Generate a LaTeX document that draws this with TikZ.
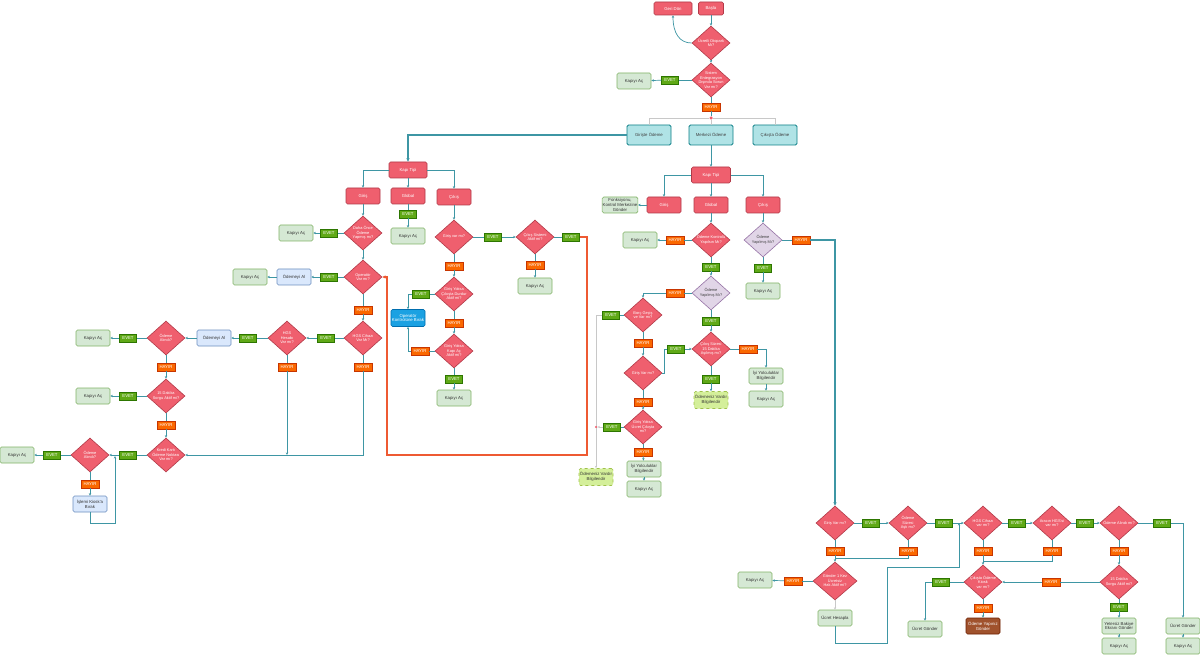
\documentclass[tikz,border=0pt]{standalone}
\usepackage{fontspec}
\setmainfont{Liberation Sans}
\usetikzlibrary{shapes.geometric,arrows.meta}
\definecolor{rf}{HTML}{EF5F6E}
\definecolor{rd}{HTML}{B23A48}
\definecolor{gf}{HTML}{D5E8D4}
\definecolor{gd}{HTML}{82B366}
\definecolor{bf}{HTML}{DAE8FC}
\definecolor{bd}{HTML}{6C8EBF}
\definecolor{tf}{HTML}{B0E3E6}
\definecolor{td}{HTML}{0E8088}
\definecolor{pf}{HTML}{E1D5E7}
\definecolor{pd}{HTML}{9673A6}
\definecolor{evc}{HTML}{60A917}
\definecolor{evd}{HTML}{2D7600}
\definecolor{hyc}{HTML}{FA6800}
\definecolor{hyd}{HTML}{C73500}
\definecolor{opc}{HTML}{1BA1E2}
\definecolor{opd}{HTML}{006EAF}
\definecolor{brc}{HTML}{A0522D}
\definecolor{brd}{HTML}{6D1F00}
\definecolor{yf}{HTML}{D4EF9A}
\definecolor{yd}{HTML}{9FC24A}
\definecolor{lc}{HTML}{3E96A4}
\definecolor{orc}{HTML}{EE5A32}
\definecolor{glc}{HTML}{C8C8C8}
\newcommand\fs{\fontsize{4.3}{4.9}\selectfont}
\newcommand\fd{\fontsize{3.9}{4.5}\selectfont}
\tikzset{
 base/.style={rectangle, rounded corners=1.5pt, inner sep=0.5pt, align=center, font=\fs, minimum height=16pt, minimum width=34pt, line width=0.6pt},
 rbox/.style={base, fill=rf, draw=rd, text=white},
 gbox/.style={base, fill=gf, draw=gd, text=black!80},
 bbox/.style={base, fill=bf, draw=bd, text=black!80},
 tbox/.style={base, fill=tf, draw=td, text=black!75, minimum width=44pt, minimum height=20pt, line width=0.8pt},
 obox/.style={base, fill=opc, draw=opd, text=white, minimum height=17pt},
 brbox/.style={base, fill=brc, draw=brd, text=white},
 ybox/.style={base, fill=yf, draw=yd, dashed, text=black!80, minimum height=17pt},
 dia/.style={diamond, fill=rf, draw=rd, minimum width=38pt, minimum height=34pt, inner sep=0pt, line width=0.6pt},
 pdia/.style={dia, fill=pf, draw=pd},
 dt/.style={font=\fd, align=center, text=white, inner sep=0pt},
 ev/.style={rectangle, fill=evc, draw=evd, text=white, font=\fs, minimum width=17pt, minimum height=8pt, inner sep=0.3pt, line width=0.4pt},
 hy/.style={ev, fill=hyc, draw=hyd, minimum width=18pt},
 ln/.style={draw=lc, line width=0.7pt},
 ar/.style={ln, -{Stealth[length=2.6pt,width=2.4pt]}},
 thk/.style={draw=lc, line width=1.4pt, -{Stealth[length=3.5pt,width=3.2pt]}},
 orl/.style={draw=orc, line width=1.3pt, -{Stealth[length=3.2pt,width=3pt]}},
 gl/.style={draw=glc, line width=0.6pt},
 gla/.style={gl, -{Stealth[length=2.4pt,width=2.2pt]}},
 dotn/.style={circle, fill=rf, inner sep=0pt, minimum size=3.5pt},
}
\newcommand\Dm[4][dia]{\node[#1] (#2) at (#3) {}; \node[dt] (#2t) at (#2.center) {#4};}
\newcommand\Dp[3]{\node[pdia] (#1) at (#2) {}; \node[dt, text=black!75] (#1t) at (#1.center) {#3};}
\begin{document}
\begin{tikzpicture}[x=1pt,y=-1pt]
\fill[white] (0,0) rectangle (1200,655);
\useasboundingbox (0,0) rectangle (1200,655);
% ---------- top ----------
\node[rbox, minimum width=38pt, minimum height=13pt] (geri) at (673,8.5) {Geri Dön};
\node[rbox, minimum width=25pt, minimum height=13pt] (basla) at (711,8.5) {Başla};
\Dm{d1}{711,43}{Ücretli Otopark\\Mı?}
\Dm{d2}{711,80}{Sistem\\Entegrasyon\\Dışında Sorun\\Var mı?}
\node[ev] (e0) at (670,80) {EVET};
\node[gbox] (k0) at (634,81) {Kapıyı Aç};
\node[hy] (h0) at (711,107) {HAYIR};
\node[dotn] (dot) at (711,118) {};
\node[tbox] (gir) at (649,135) {Girişte Ödeme};
\node[tbox] (mer) at (711,135) {Merkezi Ödeme};
\node[tbox] (cik) at (775,135) {Çıkışta Ödeme};
\draw[ar] (basla) -- (d1);
\draw[ar] (d1.west) .. controls (680,43) and (673,34) .. (geri.south);
\draw[ar] (d1) -- (d2);
\draw[ln] (d2) -- (e0); \draw[ar] (e0) -- (k0);
\draw[ln] (d2) -- (h0); \draw[ln] (h0) -- (dot);
\draw[gl] (dot) -| (gir.north);
\draw[gl] (dot) -| (cik.north);
\draw[gl] (dot) -- (mer.north);
% ---------- left tree ----------
\node[rbox, minimum width=38pt] (kt1) at (408,170) {Kapı Tipi};
\node[rbox] (lg) at (363,196) {Giriş};
\node[rbox] (lgl) at (408,196) {Global};
\node[rbox] (lc) at (454,197) {Çıkış};
\draw[thk] (gir.west) -| (kt1.north);
\draw[ar] (kt1.west) -| (lg.north);
\draw[ar] (kt1) -- (lgl);
\draw[ar] (kt1.east) -| (lc.north);
\node[ev] (e1) at (408,214) {EVET};
\node[gbox] (k1) at (408,236) {Kapıyı Aç};
\draw[ln] (lgl) -- (e1); \draw[ar] (e1) -- (k1);
\Dm{l1}{363,233}{Daha Önce\\Ödeme\\Yapmış mı?}
\draw[ar] (lg) -- (l1);
\node[ev] (e2) at (329,233) {EVET};
\node[gbox] (k2) at (296,233) {Kapıyı Aç};
\draw[ln] (l1) -- (e2); \draw[ar] (e2) -- (k2);
\Dm{l2}{363,277}{Operatör\\Var mı?}
\draw[ar] (l1) -- (l2);
\node[ev] (e3) at (329,277) {EVET};
\node[bbox] (oa1) at (294,277) {Ödemeyi Al};
\node[gbox] (k3) at (250,277) {Kapıyı Aç};
\draw[ln] (l2) -- (e3); \draw[ar] (e3) -- (oa1); \draw[ar] (oa1) -- (k3);
\node[hy] (h1) at (363,310) {HAYIR};
\Dm{l3}{363,338}{HGS Cihazı\\Var Mı?}
\draw[ln] (l2) -- (h1); \draw[ar] (h1) -- (l3);
\node[ev] (e4) at (326,338) {EVET};
\Dm{l4}{287,338}{HGS\\Hesabı\\Var mı?}
\draw[ln] (l3) -- (e4); \draw[ar] (e4) -- (l4);
\node[ev] (e5) at (248,338) {EVET};
\node[bbox] (oa2) at (214,338) {Ödemeyi Al};
\draw[ln] (l4) -- (e5); \draw[ar] (e5) -- (oa2);
\Dm{l5}{166,338}{Ödeme\\Alındı?}
\draw[ar] (oa2) -- (l5);
\node[ev] (e6) at (128,338) {EVET};
\node[gbox] (k4) at (93,338) {Kapıyı Aç};
\draw[ln] (l5) -- (e6); \draw[ar] (e6) -- (k4);
\node[hy] (h2) at (166,367) {HAYIR};
\Dm{l6}{166,396}{15 Dakika\\Sorgu Aktif mi?}
\draw[ln] (l5) -- (h2); \draw[ar] (h2) -- (l6);
\node[ev] (e7) at (128,396) {EVET};
\node[gbox] (k5) at (93,396) {Kapıyı Aç};
\draw[ln] (l6) -- (e7); \draw[ar] (e7) -- (k5);
\node[hy] (h3) at (166,425) {HAYIR};
\Dm{l7}{166,455}{Kredi Kartı\\Ödeme Noktası\\Var mı?}
\draw[ln] (l6) -- (h3); \draw[ar] (h3) -- (l7);
\node[ev] (e8) at (128,455) {EVET};
\Dm{l8}{90,455}{Ödeme\\Alındı?}
\draw[ln] (l7) -- (e8); \draw[ar] (e8) -- (l8);
\node[ev] (e9) at (52,455) {EVET};
\node[gbox] (k6) at (17,455) {Kapıyı Aç};
\draw[ln] (l8) -- (e9); \draw[ar] (e9) -- (k6);
\node[hy] (h4) at (90,484) {HAYIR};
\node[bbox] (kio) at (90,504) {İşlemi Kiosk'a\\Bırak};
\draw[ln] (l8) -- (h4); \draw[ar] (h4) -- (kio);
\coordinate (c1) at (115,523);
\coordinate (c2) at (115,456);
\draw[ar] (kio.south) |- (c1) -- (c2);
\node[hy] (h5) at (363,367) {HAYIR};
\draw[ln] (l3) -- (h5); \draw[ar] (h5) |- (l7.east);
\node[hy] (h6) at (287,367) {HAYIR};
\coordinate (c3) at (287,455);
\draw[ln] (l4) -- (h6); \draw[ar] (h6) -- (c3);
% ---------- Cikis column (left) ----------
\Dm{m1}{454,237}{Giriş var mı?}
\draw[ar] (lc) -- (m1);
\node[ev] (e10) at (493,237) {EVET};
\Dm{m2}{535,237}{Çıkış Sistemi\\Aktif mi?}
\draw[ln] (m1) -- (e10); \draw[ar] (e10) -- (m2);
\node[ev] (e11) at (571,237) {EVET};
\draw[ln] (m2) -- (e11);
\draw[orl] (e11.east) -- (587,237) -- (587,455) -- (387,455) -- (387,277) -- (l2.east);
\node[hy] (h7) at (535,265) {HAYIR};
\node[gbox] (k7) at (535,286) {Kapıyı Aç};
\draw[ln] (m2) -- (h7); \draw[ar] (h7) -- (k7);
\node[hy] (h8) at (454,266) {HAYIR};
\Dm{m3}{454,294}{Giriş Yoksa\\Çıkışta Durdur\\Aktif mi?}
\draw[ln] (m1) -- (h8); \draw[ar] (h8) -- (m3);
\node[ev] (e12) at (421,294) {EVET};
\node[obox] (opk) at (408,318) {Operatör\\Kontrolüne Bırak};
\draw[ln] (m3) -- (e12); \draw[ar] (e12.west) -| (opk.north);
\node[hy] (h9) at (454,323) {HAYIR};
\Dm{m4}{454,351}{Giriş Yoksa\\Kapı Aç\\Aktif mi?}
\draw[ln] (m3) -- (h9); \draw[ar] (h9) -- (m4);
\node[hy] (h10) at (420,351) {HAYIR};
\draw[ln] (m4) -- (h10); \draw[ar] (h10.west) -| (opk.south);
\node[ev] (e13) at (454,379) {EVET};
\node[gbox] (k8) at (454,398) {Kapıyı Aç};
\draw[ln] (m4) -- (e13); \draw[ar] (e13) -- (k8);
% ---------- right tree ----------
\node[rbox, minimum width=39pt] (kt2) at (711,175) {Kapı Tipi};
\node[rbox] (rg) at (664,205) {Giriş};
\node[rbox] (rgl) at (711,205) {Global};
\node[rbox] (rc) at (763,205) {Çıkış};
\node[gbox] (fk) at (620,205) {Fonksiyonu,\\Kontrol Merkezine\\Gönder};
\draw[ar] (mer) -- (kt2);
\draw[ar] (kt2.west) -| (rg.north);
\draw[ar] (kt2) -- (rgl);
\draw[ar] (kt2.east) -| (rc.north);
\draw[ar] (rg) -- (fk);
\Dm{r1}{711,240}{Ödeme Kontrolü\\Yapılsın Mı?}
\draw[ar] (rgl) -- (r1);
\node[hy] (h11) at (675,240) {HAYIR};
\node[gbox] (k9) at (640,240) {Kapıyı Aç};
\draw[ln] (r1) -- (h11); \draw[ar] (h11) -- (k9);
\node[ev] (e14) at (711,267) {EVET};
\Dp{r2}{711,293}{Ödeme\\Yapılmış Mı?}
\draw[ln] (r1) -- (e14); \draw[ar] (e14) -- (r2);
\node[hy] (h12) at (675,293) {HAYIR};
\Dm{r3}{643,315}{Borç Geçiş\\ve Var mı?}
\draw[ln] (r2) -- (h12); \draw[ar] (h12.west) -| (r3.north);
\node[ev] (e15) at (611,315) {EVET};
\draw[ln] (r3) -- (e15);
\node[ybox] (ov1) at (596,477) {Ödemeniz Vardır\\Bilgilendir};
\node[dotn, minimum size=2.5pt] (dot2) at (596,427) {};
\draw[gl] (e15.west) -| (dot2);
\draw[gla] (dot2) -- (ov1);
\node[hy] (h13) at (643,343) {HAYIR};
\Dm{r4}{643,373}{Giriş Var mı?}
\draw[ln] (r3) -- (h13); \draw[ar] (h13) -- (r4);
\node[ev] (e16) at (676,349) {EVET};
\draw[ln] (r4.east) -- ++(2,0) |- (e16.west);
\Dm{r5}{711,349}{Çıkış Süresi\\15 Dakika\\Aşılmış mı?}
\draw[ar] (e16) -- (r5);
\node[ev] (e17) at (711,321) {EVET};
\draw[ln] (r2) -- (e17); \draw[ar] (e17) -- (r5);
\node[hy] (h14) at (748,349) {HAYIR};
\node[gbox] (iy1) at (766,376) {İyi Yolculuklar\\Bilgilendir};
\node[gbox] (k10) at (766,399) {Kapıyı Aç};
\draw[ln] (r5) -- (h14); \draw[ar] (h14.east) -| (iy1.north); \draw[ar] (iy1) -- (k10);
\node[ev] (e18) at (711,379) {EVET};
\node[ybox] (ov2) at (711,400) {Ödemeniz Vardır\\Bilgilendir};
\draw[ln] (r5) -- (e18); \draw[ar] (e18) -- (ov2);
\node[hy] (h15) at (643,402) {HAYIR};
\Dm{r6}{643,427}{Giriş Yoksa\\Ücret Çıkışta\\mı?}
\draw[ln] (r4) -- (h15); \draw[ar] (h15) -- (r6);
\node[ev] (e19) at (612,427) {EVET};
\draw[ln] (r6) -- (e19); \draw[gla] (e19) -- (dot2);
\node[hy] (h16) at (643,452) {HAYIR};
\node[gbox] (iy2) at (644,469) {İyi Yolculuklar\\Bilgilendir};
\node[gbox] (k11) at (644,489) {Kapıyı Aç};
\draw[ln] (r6) -- (h16); \draw[ar] (h16) -- (iy2); \draw[ar] (iy2) -- (k11);
\Dp{r7}{763,240}{Ödeme\\Yapılmış Mı?}
\draw[ar] (rc) -- (r7);
\node[ev] (e20) at (763,268) {EVET};
\node[gbox] (k12) at (763,291) {Kapıyı Aç};
\draw[ln] (r7) -- (e20); \draw[ar] (e20) -- (k12);
\node[hy] (h17) at (801,240) {HAYIR};
\draw[ln] (r7) -- (h17);
% ---------- bottom ----------
\Dm{b1}{835,523}{Giriş Var mı?}
\draw[thk] (h17.east) -| (b1.north);
\node[ev] (e21) at (871,523) {EVET};
\Dm{b2}{908,523}{Ödeme\\Süresi\\Aştı mı?}
\draw[ln] (b1) -- (e21); \draw[ar] (e21) -- (b2);
\node[ev] (e22) at (944,523) {EVET};
\draw[ln] (b2) -- (e22);
\Dm{b3}{983,523}{HGS Cihazı\\var mı?}
\draw[ar] (e22) -- (b3);
\node[hy] (h18) at (835,551) {HAYIR};
\node[hy] (h19) at (908,551) {HAYIR};
\draw[ln] (b1) -- (h18); \draw[ln] (b2) -- (h19);
\Dm[dia, minimum width=44pt, minimum height=38pt]{b4}{835,581}{Gönder 1 Kez\\Ücretsiz\\Hak Aktif mi?}
\draw[ar] (h18) -- (b4);
\coordinate (j1) at (835,558);
\draw[ln] (h19.south) |- (j1);
\node[hy] (h20) at (793,581) {HAYIR};
\node[gbox] (k13) at (755,580) {Kapıyı Aç};
\draw[ln] (b4) -- (h20); \draw[ar] (h20) -- (k13);
\node[gbox] (uh) at (835,618) {Ücret Hesapla};
\draw[gla] (b4) -- (uh);
\coordinate (j2) at (959,523);
\draw[ar] (uh.south) -- (835,643) -- (887,643) -- (887,567) -- (959,567) -- (j2);
\node[ev] (e23) at (1017,523) {EVET};
\Dm{b5}{1052,523}{Aracın HGS'si\\var mı?}
\draw[ln] (b3) -- (e23); \draw[ar] (e23) -- (b5);
\node[ev] (e24) at (1085,523) {EVET};
\Dm{b6}{1119,523}{Ödeme Alındı mı?}
\draw[ln] (b5) -- (e24); \draw[ar] (e24) -- (b6);
\node[ev] (e25) at (1162,523) {EVET};
\node[gbox] (ug2) at (1183,626) {Ücret Gönder};
\node[gbox] (k14) at (1183,646) {Kapıyı Aç};
\draw[ln] (b6) -- (e25); \draw[ar] (e25.east) -| (ug2.north); \draw[ar] (ug2) -- (k14);
\node[hy] (h21) at (983,551) {HAYIR};
\node[hy] (h22) at (1052,551) {HAYIR};
\Dm{b7}{983,582}{Çıkışta Ödeme\\Kiosk\\var mı?}
\draw[ln] (b3) -- (h21); \draw[ar] (h21) -- (b7);
\coordinate (j3) at (983,561);
\draw[ln] (b5) -- (h22); \draw[ln] (h22.south) |- (j3);
\node[hy] (h23) at (1119,551) {HAYIR};
\Dm{b8}{1119,582}{15 Dakika\\Sorgu Aktif mi?}
\draw[ln] (b6) -- (h23); \draw[ar] (h23) -- (b8);
\node[hy] (h24) at (1051,582) {HAYIR};
\draw[ln] (b8) -- (h24); \draw[ar] (h24) -- (b7);
\node[ev] (e26) at (1119,607) {EVET};
\node[gbox] (yb) at (1119,626) {Yetersiz Bakiye\\Ekranı Gönder};
\node[gbox] (k15) at (1119,646) {Kapıyı Aç};
\draw[ln] (b8) -- (e26); \draw[ar] (e26) -- (yb); \draw[ar] (yb) -- (k15);
\node[hy] (h25) at (983,608) {HAYIR};
\node[brbox] (oy) at (983,626) {Ödeme Yapınız\\Gönder};
\draw[ln] (b7) -- (h25); \draw[ar] (h25) -- (oy);
\node[ev] (e27) at (941,582) {EVET};
\node[gbox] (ug1) at (925,629) {Ücret Gönder};
\draw[ln] (b7) -- (e27); \draw[ar] (e27.west) -| (ug1.north);
\end{tikzpicture}
\end{document}
